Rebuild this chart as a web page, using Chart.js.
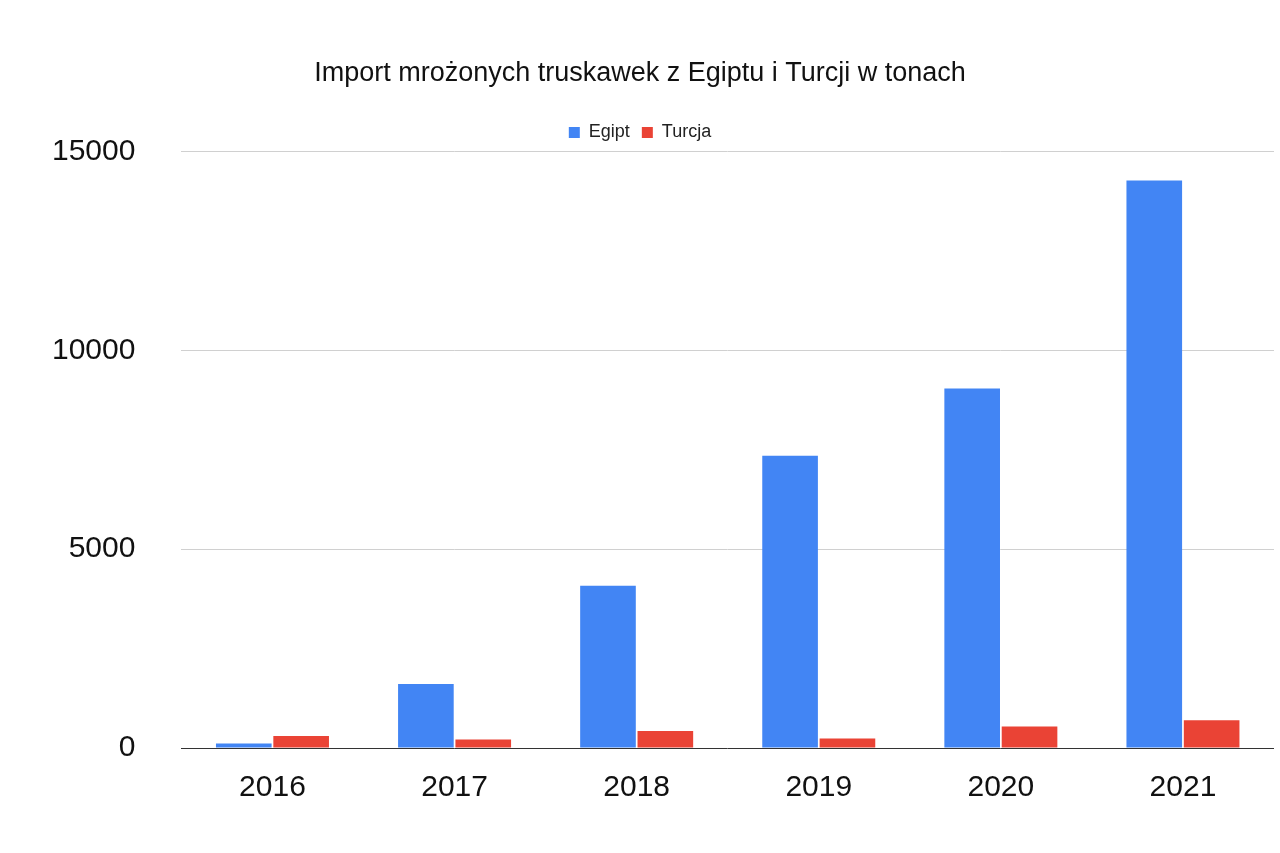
<!DOCTYPE html>
<html lang="en">
<head>
    <meta charset="UTF-8">
    <title>Import mrożonych truskawek</title>
    <script src="https://cdn.jsdelivr.net/npm/chart.js"></script>
    <style>
        body { margin: 0; background: #fff; }
        canvas { display: block; }
    </style>
</head>
<body>
    <canvas id="chart" width="1280" height="853"></canvas>
    <script>
        const years = ['2016', '2017', '2018', '2019', '2020', '2021'];
        const egipt = [110, 1610, 4080, 7350, 9040, 14270];
        const turcja = [300, 215, 430, 240, 540, 700];
        const yTicks = [0, 5000, 10000, 15000];

        Chart.defaults.font.family = '"Liberation Sans", Arial, sans-serif';
        Chart.defaults.color = '#222';

        // extra space between legend and plot
        const legendGap = {
            id: 'legendGap',
            beforeInit(chart) {
                const fit = chart.legend.fit;
                chart.legend.fit = function () {
                    fit.bind(chart.legend)();
                    this.height += 38;
                };
            }
        };

        new Chart(document.getElementById('chart'), {
            type: 'bar',
            data: {
                labels: years,
                datasets: [
                    { label: 'Egipt', data: egipt, backgroundColor: '#4285f4' },
                    { label: 'Turcja', data: turcja, backgroundColor: '#ea4335' }
                ]
            },
            options: {
                responsive: false,
                animation: false,
                layout: { padding: { top: 47, right: 6, left: 6, bottom: 33 } },
                datasets: { bar: { categoryPercentage: 0.63, barPercentage: 0.97 } },
                plugins: {
                    title: {
                        display: true,
                        text: 'Import mrożonych truskawek z Egiptu i Turcji w tonach',
                        font: { size: 27, weight: 'normal' },
                        color: '#111',
                        padding: { top: 10, bottom: 22 }
                    },
                    legend: {
                        labels: { boxWidth: 11, boxHeight: 11, font: { size: 18 }, color: '#222', padding: 12 }
                    },
                    tooltip: { enabled: false }
                },
                scales: {
                    x: {
                        grid: { display: false },
                        border: { display: false },
                        ticks: { font: { size: 30 }, color: '#111', padding: 14 }
                    },
                    y: {
                        min: 0,
                        max: 15000,
                        afterBuildTicks: axis => { axis.ticks = yTicks.map(v => ({ value: v })); },
                        border: { display: false },
                        grid: {
                            color: ctx => ctx.tick && ctx.tick.value === 0 ? '#333' : '#d0d0d0',
                            drawTicks: false
                        },
                        ticks: { font: { size: 30 }, color: '#111', padding: 46, callback: v => String(v) }
                    }
                }
            }
        }, );
        Chart.register(legendGap);
    </script>
</body>
</html>
